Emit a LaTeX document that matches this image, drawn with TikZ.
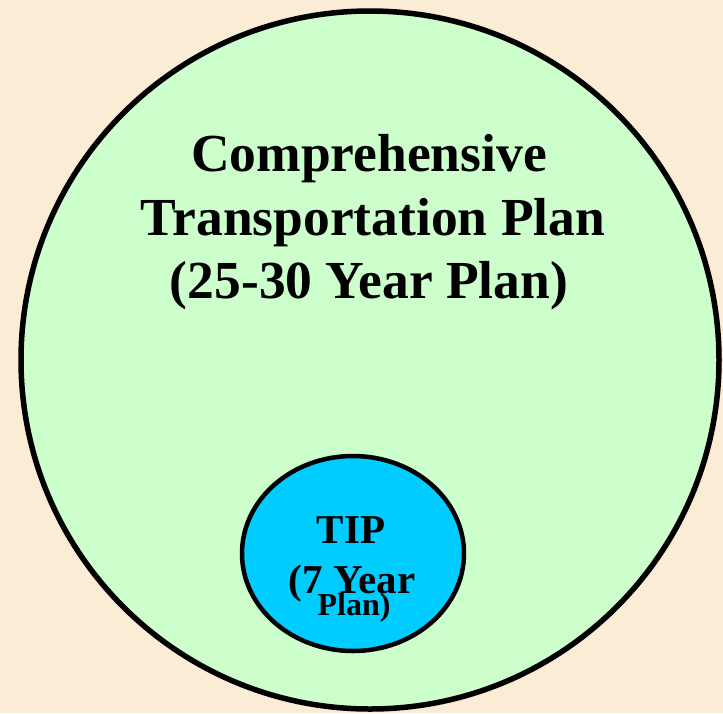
\documentclass[tikz,border=0pt]{standalone}
\usepackage{fontspec}
\setmainfont{Liberation Serif}
\usetikzlibrary{shapes.geometric}

\definecolor{parchment}{HTML}{FBECD5}
\definecolor{ctpgreen}{HTML}{CCFFCC}
\definecolor{tipcyan}{HTML}{00CCFF}

\tikzset{
  ctpcircle/.style = {circle, draw, line width=5.5pt, fill=ctpgreen, inner sep=0pt, minimum size=698pt},
  tipoval/.style = {ellipse, draw, line width=4.5pt, fill=tipcyan, inner sep=0pt, minimum width=222pt, minimum height=195pt},
  bigtext/.style = {anchor=base, inner sep=0pt, font=\fontsize{53.5}{60}\selectfont\bfseries},
  tiptext/.style = {anchor=base, inner sep=0pt, font=\fontsize{41}{46}\selectfont\bfseries},
}

\begin{document}
\begin{tikzpicture}[x=1pt, y=-1pt]
\fill[parchment] (0,0) rectangle (723,713);
\useasboundingbox (0,0) rectangle (723,713);

\node[ctpcircle] (ctp) at (370,360) {};
\node[tipoval] (tip) at (353,553.5) {};

\node[bigtext] (ctp1) at (369,171) {Comprehensive};
\node[bigtext] (ctp2) at (373,235) {Transportation Plan};
\node[bigtext] (ctp3) at (369,298) {(25-30 Year Plan)};

\node[tiptext] (tip1) at (351,543) {TIP};
\node[tiptext] (tip2) at (352,593) {(7 Year};
\node[tiptext, font=\fontsize{32}{36}\selectfont\bfseries] (tip3) at (354,615) {Plan)};
\end{tikzpicture}
\end{document}
